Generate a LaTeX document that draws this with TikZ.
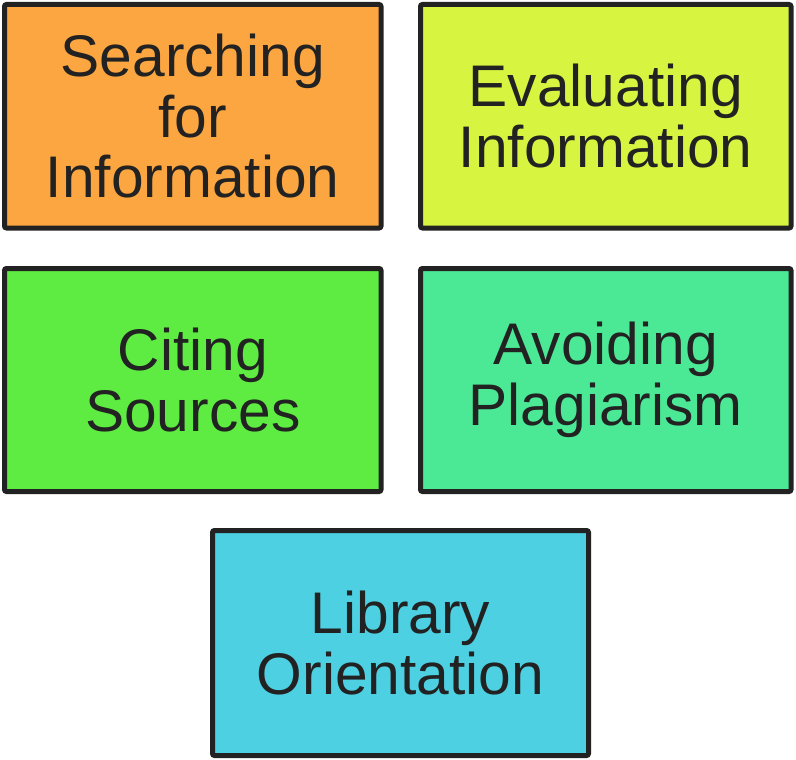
\documentclass[tikz,border=0pt]{standalone}
\usepackage{fontspec}
\setmainfont{Liberation Sans}
\definecolor{edge}{HTML}{222222}
\definecolor{cOrange}{HTML}{FBA641}
\definecolor{cLime}{HTML}{D7F540}
\definecolor{cGreen}{HTML}{5EEC42}
\definecolor{cTeal}{HTML}{4BE896}
\definecolor{cCyan}{HTML}{4CD0E2}
\tikzset{
  topic/.style={draw=edge, line width=5pt, rounded corners=2pt, align=center,
    text=edge, inner sep=0pt, font=\fontsize{58.7}{60.5}\selectfont},
}
\begin{document}
\begin{tikzpicture}[x=1pt,y=-1pt]
\useasboundingbox (0,0) rectangle (796,760);
\node[topic, fill=cOrange, minimum width=376.5pt, minimum height=223.5pt] (search) at (192.75,116.25) {Searching\\for\\Information};
\node[topic, fill=cLime, minimum width=370.5pt, minimum height=223.5pt] (eval) at (605.75,116.25) {Evaluating\\Information};
\node[topic, fill=cGreen, minimum width=376.5pt, minimum height=223pt] (cite) at (192.75,380) {Citing\\Sources};
\node[topic, fill=cTeal, minimum width=370.5pt, minimum height=223pt] (avoid) at (605.75,380) {Avoiding\\Plagiarism};
\node[topic, fill=cCyan, minimum width=376pt, minimum height=225pt] (lib) at (400.5,643) {Library\\Orientation};
\end{tikzpicture}
\end{document}
